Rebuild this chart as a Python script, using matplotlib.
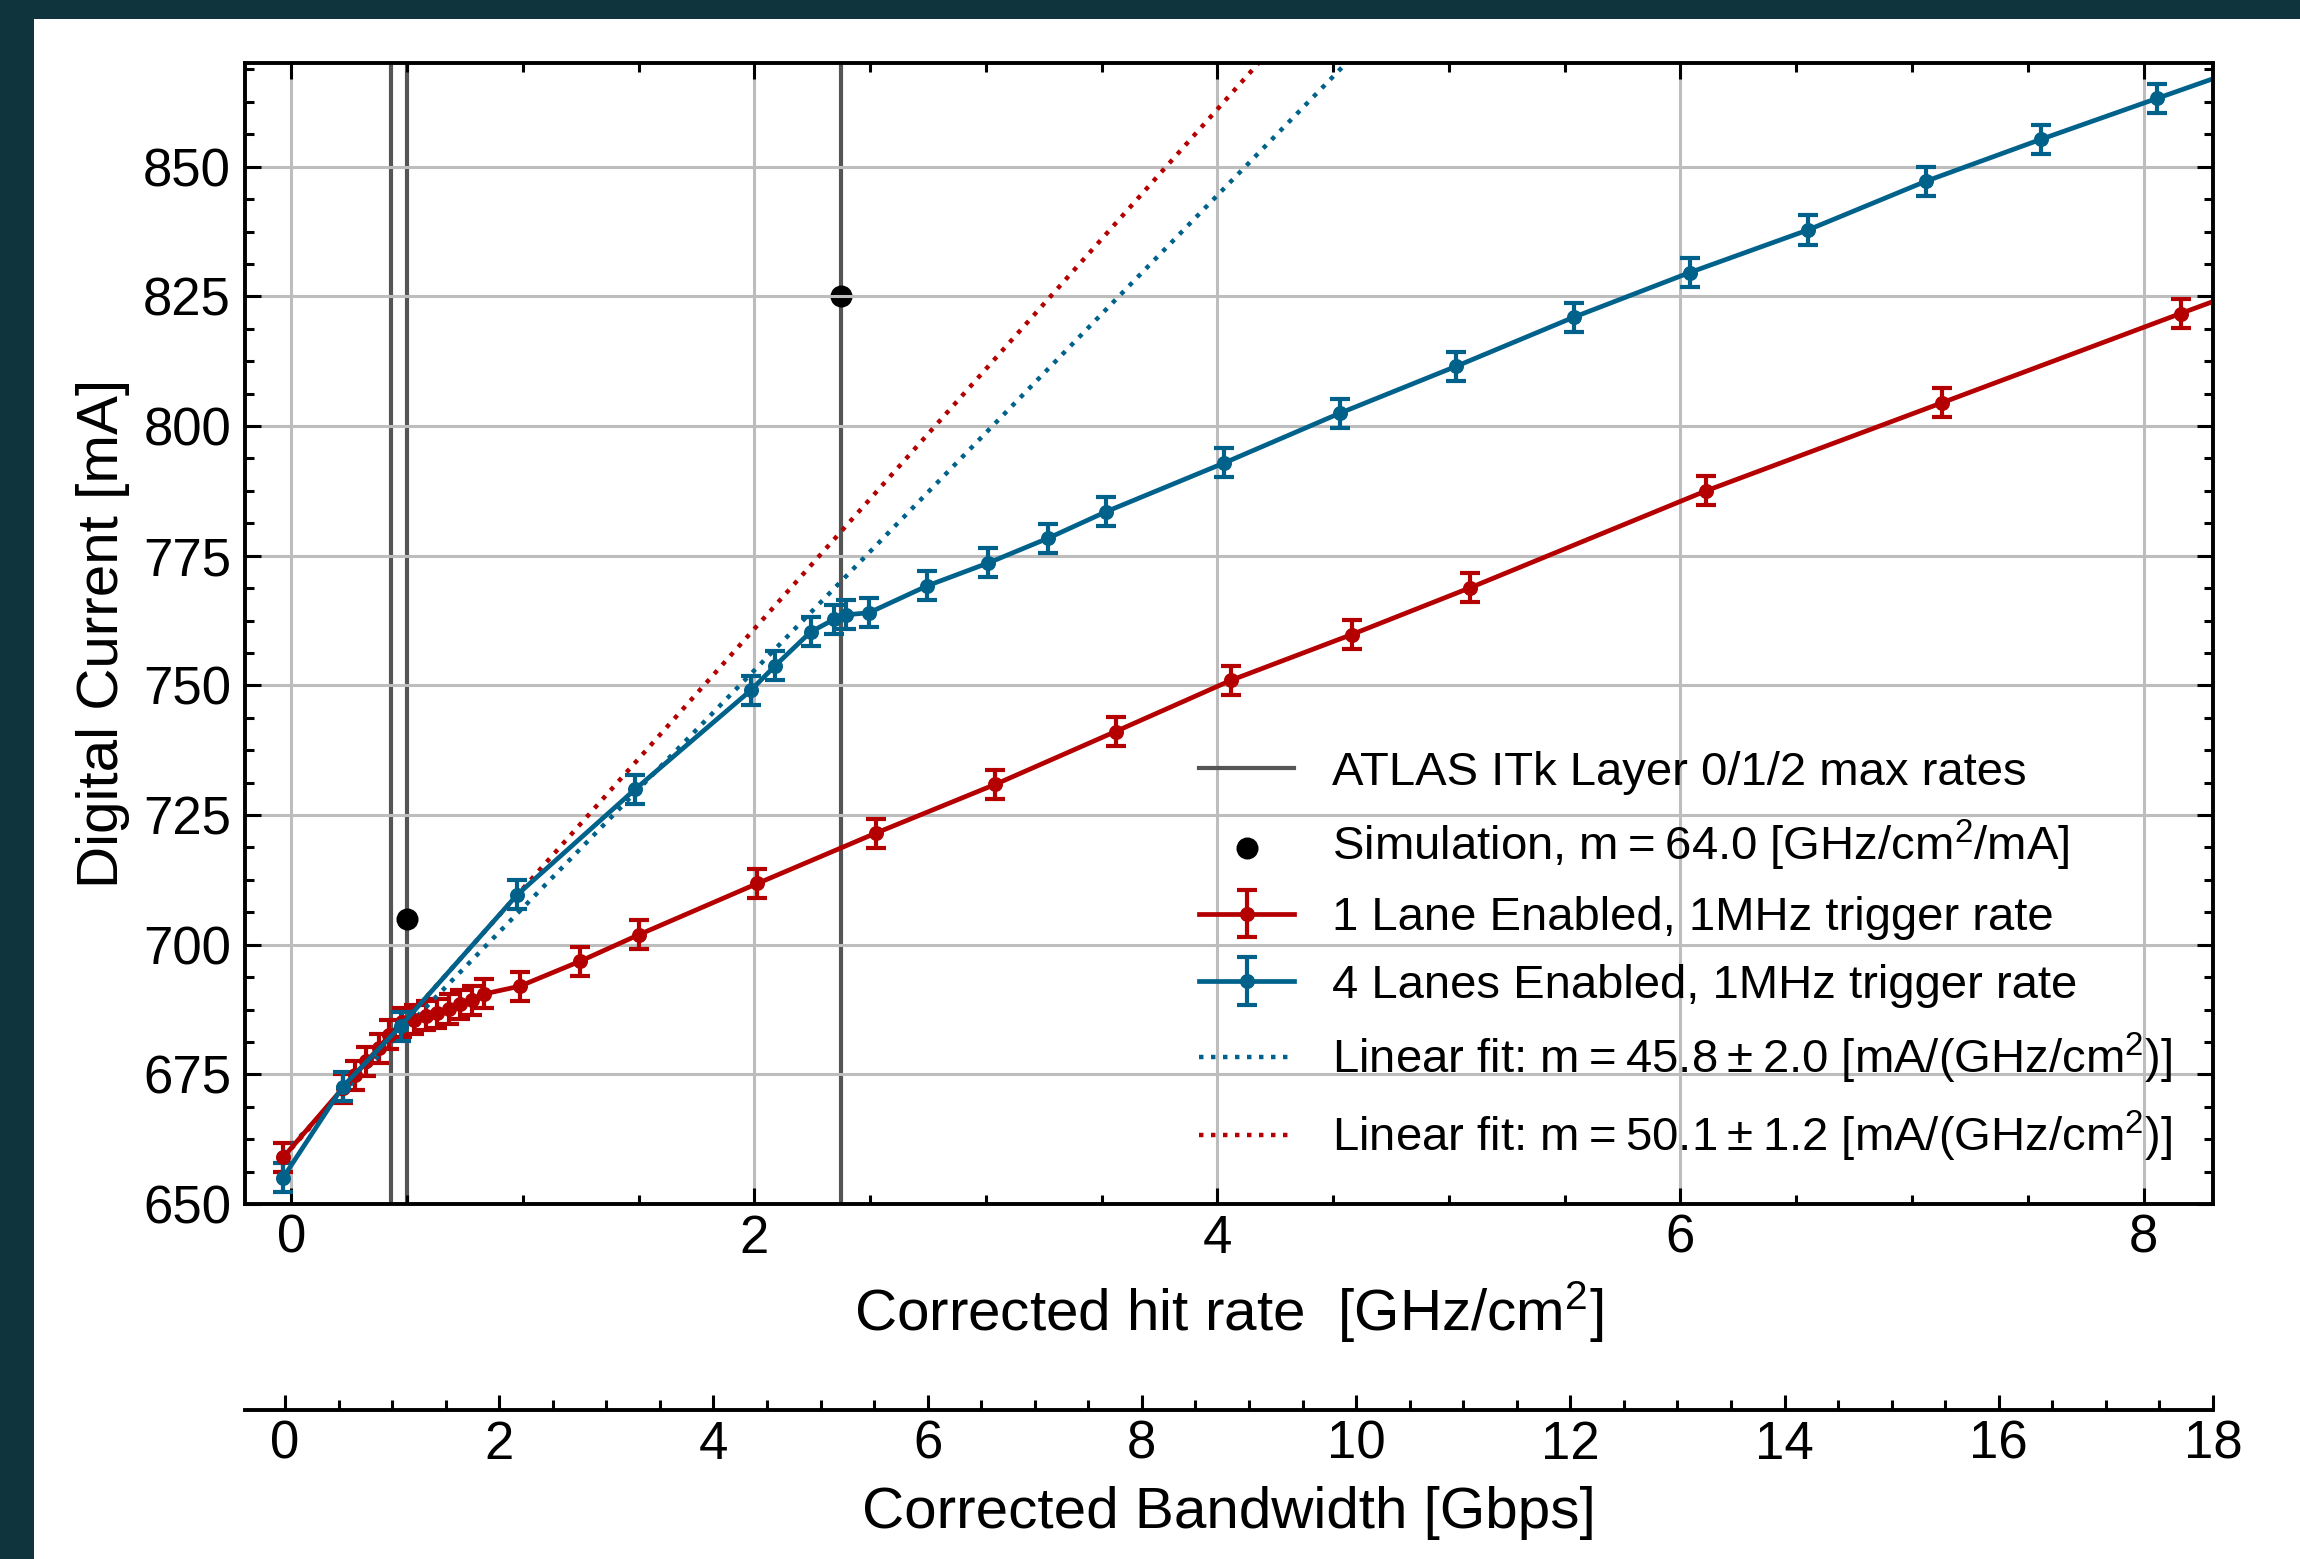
import matplotlib
matplotlib.use("Agg")
import matplotlib.pyplot as plt
import numpy as np
from matplotlib.ticker import MultipleLocator, AutoMinorLocator
from matplotlib.lines import Line2D
from matplotlib.patches import Rectangle

plt.rcParams['font.family'] = ['Liberation Sans', 'DejaVu Sans']
plt.rcParams['mathtext.fontset'] = 'custom'
plt.rcParams['mathtext.rm'] = 'Liberation Sans'
plt.rcParams['mathtext.it'] = 'Liberation Sans:italic'
plt.rcParams['mathtext.bf'] = 'Liberation Sans:bold'

# ---- measurements -------------------------------------------------------
# 1 lane enabled, 1 MHz trigger rate
red_x = [-0.035, 0.222, 0.276, 0.324, 0.377, 0.424, 0.478, 0.53, 0.58, 0.63,
         0.68, 0.73, 0.78, 0.833, 0.987, 1.247, 1.50, 2.013, 2.524, 3.04, 3.56,
         4.06, 4.58, 5.09, 6.11, 7.13, 8.16, 9.18]
red_y = [659.0, 672.3, 674.8, 677.5, 680.0, 682.6, 685.0, 685.5, 686.3, 686.8,
         687.6, 688.5, 689.3, 690.5, 692.0, 696.8, 701.9, 711.8, 721.5, 730.9,
         741.1, 751.0, 759.8, 768.8, 787.5, 804.5, 821.7, 838.5]
red_err = [2.8] * len(red_x)

# 4 lanes enabled, 1 MHz trigger rate
blue_x = [-0.035, 0.222, 0.472, 0.975, 1.486, 1.986, 2.09, 2.243, 2.343, 2.394,
          2.495, 2.747, 3.01, 3.27, 3.52, 4.03, 4.53, 5.03, 5.54, 6.04, 6.55,
          7.06, 7.558, 8.06, 8.57]
blue_y = [655.1, 672.6, 684.3, 709.6, 730.0, 749.1, 753.8, 760.3, 762.7, 763.6,
          764.0, 769.2, 773.6, 778.4, 783.5, 792.9, 802.5, 811.5, 821.0, 829.6,
          837.8, 847.2, 855.3, 863.2, 871.2]
blue_err = [2.8] * len(blue_x)

# linear fits (slope in mA per GHz/cm^2, intercept in mA)
fit_blue_slope, fit_blue_intercept = 45.8, 661.3
fit_red_slope, fit_red_intercept = 50.1, 660.7

# ATLAS ITk layer 0/1/2 maximum hit rates [GHz/cm^2]
itk_rates = [0.43, 0.50, 2.375]

# simulation points
sim_x = [0.50, 2.375]
sim_y = [705.0, 825.0]

y_ticks = [650, 675, 700, 725, 750, 775, 800, 825, 850]
x_ticks = [0, 2, 4, 6, 8]
bw_ticks = [0, 2, 4, 6, 8, 10, 12, 14, 16, 18]

RED = '#b40000'
BLUE = '#00628b'
GREY = '#555555'

W, H = 2300, 1559
fig = plt.figure(figsize=(W / 200, H / 200), dpi=200, facecolor='#10343d')
fig.patches.append(Rectangle((34 / W, 0), 1 - 34 / W, 1 - 19 / H,
                             transform=fig.transFigure, facecolor='white',
                             edgecolor='none', zorder=-10))

left, right = 245 / W, 2213 / W
bottom, top = 1 - 1204 / H, 1 - 63 / H
ax = fig.add_axes([left, bottom, right - left, top - bottom])

# ITk maximum rates
for r in itk_rates:
    ax.axvline(r, color=GREY, lw=1.5, zorder=0.9)

sim = ax.scatter(sim_x, sim_y, s=48, color='black', zorder=1)

eb_kw = dict(marker='o', ms=4.4, lw=1.7, elinewidth=1.5, capsize=3.5,
             capthick=1.5)
red_eb = ax.errorbar(red_x, red_y, yerr=red_err, color=RED, **eb_kw)
blue_eb = ax.errorbar(blue_x, blue_y, yerr=blue_err, color=BLUE, **eb_kw)

xf = np.array([-0.035, 8.3])
dot = (0, (1, 1.7))
fit_b, = ax.plot(xf, fit_blue_intercept + fit_blue_slope * xf, color=BLUE,
                 lw=1.6, ls=dot)
fit_r, = ax.plot(xf, fit_red_intercept + fit_red_slope * xf, color=RED,
                 lw=1.6, ls=dot)

ax.set_xlim(-0.2, 8.3)
ax.set_ylim(650, 870)
ax.set_xticks(x_ticks)
ax.set_yticks(y_ticks)
ax.xaxis.set_minor_locator(AutoMinorLocator(4))
ax.yaxis.set_minor_locator(AutoMinorLocator(4))
ax.grid(True, which='major', color='#bdbdbd', lw=1.1)

ax.tick_params(which='both', direction='in', top=True, right=True,
               width=1.1, labelsize=19, color='black')
ax.tick_params(which='major', length=5.6)
ax.tick_params(which='minor', length=3.2)
ax.tick_params(axis='x', pad=3.5)
ax.tick_params(axis='y', pad=5)
for s in ax.spines.values():
    s.set_linewidth(1.4)

ax.set_xlabel('Corrected hit rate  [GHz/cm$^2$]', fontsize=21, labelpad=5.5)
ax.set_ylabel('Digital Current [mA]', fontsize=21, labelpad=4.5)

T = '\u2009'  # thin space around '=' and '\u00b1'
itk_handle = Line2D([], [], color=GREY, lw=1.5)
handles = [itk_handle, sim, red_eb, blue_eb, fit_b, fit_r]
labels = [
    'ATLAS ITk Layer 0/1/2 max rates',
    f'Simulation, m{T}={T}64.0 [GHz/cm$^2$/mA]',
    '1 Lane Enabled, 1MHz trigger rate',
    '4 Lanes Enabled, 1MHz trigger rate',
    f'Linear fit: m{T}={T}45.8{T}\u00b1{T}2.0 [mA/(GHz/cm$^2$)]',
    f'Linear fit: m{T}={T}50.1{T}\u00b1{T}1.2 [mA/(GHz/cm$^2$)]',
]
ax.legend(handles, labels, loc='upper left', bbox_to_anchor=(0.485, 0.397),
          frameon=False, fontsize=17, handlelength=2.0, handletextpad=0.8,
          labelspacing=0.49, borderpad=0, borderaxespad=0, scatterpoints=1)

# bandwidth scale below the main axes
bw_y = 1 - 1410 / H
ax2 = fig.add_axes([left, bw_y, right - left, 0.02])
ax2.patch.set_visible(False)
for k in ('top', 'left', 'right'):
    ax2.spines[k].set_visible(False)
ax2.spines['bottom'].set_linewidth(1.4)
ax2.set_yticks([])
ax2.set_xlim(-0.373, 18)
ax2.set_xticks(bw_ticks)
ax2.xaxis.set_minor_locator(MultipleLocator(0.5))
ax2.tick_params(which='both', direction='in', width=1.1, labelsize=19,
                pad=3.5)
ax2.tick_params(which='major', length=5.4)
ax2.tick_params(which='minor', length=3.6)
ax2.set_xlabel('Corrected Bandwidth [Gbps]', fontsize=21, labelpad=6)

fig.savefig('out.png', dpi=200, facecolor=fig.get_facecolor())
